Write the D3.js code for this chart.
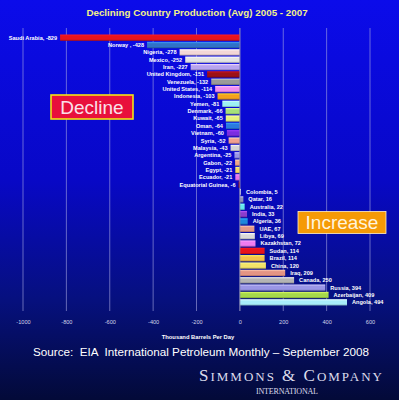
<!DOCTYPE html>
<html>
<head>
<meta charset="utf-8">
<script src="https://cdn.jsdelivr.net/npm/d3@7"></script>
<style>
html, body { margin: 0; padding: 0; background: #030a38; }
svg { display: block; }
</style>
</head>
<body>
<svg id="chart" width="399" height="400"></svg>
<script>
// countries in chart order, top to bottom
const countries = ["Saudi Arabia", "Norway ", "Nigeria", "Mexico", "Iran", "United Kingdom", "Venezuela",
  "United States", "Indonesia", "Yemen", "Denmark", "Kuwait", "Oman", "Vietnam", "Syria", "Malaysia",
  "Argentina", "Gabon", "Egypt", "Ecuador", "Equatorial Guinea",
  "Colombia", "Qatar", "Australia", "India", "Algeria", "UAE", "Libya", "Kazakhstan", "Sudan", "Brazil",
  "China", "Iraq", "Canada", "Russia", "Azerbaijan", "Angola"];
// change in production, thousand barrels per day
const values = [-829, -428, -278, -252, -227, -151, -132, -114, -103, -81, -66, -65, -64, -60, -52, -43,
  -25, -22, -21, -21, -6,
  5, 16, 22, 33, 36, 67, 69, 72, 114, 114, 120, 209, 250, 394, 409, 494];
const barColors = ["#e8141c", "#2f72c8", "#f2d6d6", "#e4e4e4", "#b8a4ee", "#9c1016", "#9a9a9a", "#f08ef0",
  "#f4a21c", "#9ef0f4", "#a6e07a", "#e6f27c", "#2a7ae0", "#7a2ee0", "#f0a090", "#d4d4d4",
  "#9a96e6", "#f0a888", "#f4d864", "#e874e8", "#9c1016",
  "#c8c8f0", "#9090b8", "#66e6ee", "#8a3ccc", "#1e86dc", "#e49888", "#d8d8d8", "#f07cf0", "#e8141c",
  "#f4c048", "#f4e468", "#e49484", "#b4b4b4", "#9a96e6", "#a6d84a", "#a8ecfa"];
const tickValues = [-1000, -800, -600, -400, -200, 0, 200, 400, 600];

const title = "Declining Country Production (Avg) 2005 - 2007";
const axisTitle = "Thousand Barrels Per Day";
const sourceText = "Source:  EIA  International Petroleum Monthly \u2013 September 2008";

var svg = d3.select("#chart");
var defs = svg.append("defs");

// background
var bg = defs.append("linearGradient").attr("id", "bg")
  .attr("x1", 0).attr("y1", 0).attr("x2", 0).attr("y2", 1);
bg.append("stop").attr("offset", "0%").attr("stop-color", "#0b0bea");
bg.append("stop").attr("offset", "45%").attr("stop-color", "#0808c6");
bg.append("stop").attr("offset", "75%").attr("stop-color", "#06107e");
bg.append("stop").attr("offset", "100%").attr("stop-color", "#030a38");
svg.append("rect").attr("width", 399).attr("height", 400).attr("fill", "url(#bg)");

// shiny bar gradients
barColors.forEach(function (c, i) {
  let g = defs.append("linearGradient").attr("id", "bar" + i)
    .attr("x1", 0).attr("y1", 0).attr("x2", 0).attr("y2", 1);
  g.append("stop").attr("offset", "0%").attr("stop-color", d3.color(c).brighter(0.9));
  g.append("stop").attr("offset", "30%").attr("stop-color", c);
  g.append("stop").attr("offset", "75%").attr("stop-color", c);
  g.append("stop").attr("offset", "100%").attr("stop-color", d3.color(c).darker(0.9));
});

var x = d3.scaleLinear().domain([-1000, 600]).range([23, 370]);
var y = d3.scaleBand().domain(countries).range([34.5, 305.5]).paddingInner(0.14);

// title
svg.append("text")
  .attr("x", 197).attr("y", 16)
  .attr("text-anchor", "middle")
  .attr("font-family", "Arial, 'Liberation Sans', sans-serif")
  .attr("font-weight", "bold")
  .attr("font-size", 9.8)
  .attr("fill", "#f2f08a")
  .text(title);

// grid lines
svg.append("g").selectAll("line")
  .data(tickValues)
  .enter()
  .append("line")
  .attr("x1", d => x(d)).attr("x2", d => x(d))
  .attr("y1", 28).attr("y2", 311)
  .attr("stroke", "#a8a8e0")
  .attr("stroke-opacity", 0.75)
  .attr("stroke-width", 0.8);

// bars
var rows = svg.append("g").selectAll("g")
  .data(countries)
  .enter()
  .append("g");

rows.append("rect")
  .attr("x", (d, i) => Math.min(x(0), x(values[i])))
  .attr("y", d => y(d))
  .attr("width", (d, i) => Math.abs(x(values[i]) - x(0)))
  .attr("height", y.bandwidth())
  .attr("fill", (d, i) => "url(#bar" + i + ")");

rows.append("text")
  .attr("x", (d, i) => values[i] < 0 ? x(values[i]) - 3 : x(values[i]) + 5)
  .attr("y", d => y(d) + y.bandwidth() / 2)
  .attr("dy", "0.35em")
  .attr("text-anchor", (d, i) => values[i] < 0 ? "end" : "start")
  .attr("font-family", "Arial, 'Liberation Sans', sans-serif")
  .attr("font-weight", "bold")
  .attr("font-size", 5.6)
  .attr("fill", "#ffffff")
  .style("white-space", "pre")
  .text((d, i) => d + ", " + values[i]);

// zero line
svg.append("line")
  .attr("x1", x(0)).attr("x2", x(0))
  .attr("y1", 28).attr("y2", 311)
  .attr("stroke", "#8080a8")
  .attr("stroke-width", 0.8);

// x axis labels
var axis = svg.append("g").attr("transform", "translate(0,324)")
  .call(d3.axisBottom(x).tickValues(tickValues).tickSize(0).tickPadding(0).tickFormat(d => String(d)));
axis.select(".domain").remove();
axis.selectAll("text")
  .attr("font-family", "Arial, 'Liberation Sans', sans-serif")
  .attr("font-size", 5.6)
  .attr("fill", "#d4d4e8")
  .attr("dy", 0);

svg.append("text")
  .attr("x", 198).attr("y", 339)
  .attr("text-anchor", "middle")
  .attr("font-family", "Arial, 'Liberation Sans', sans-serif")
  .attr("font-weight", "bold")
  .attr("font-size", 5.8)
  .attr("fill", "#ffffff")
  .text(axisTitle);

// annotation boxes
function labelBox(x0, y0, w, h, fill, stroke, sw, txt, txtColor) {
  svg.append("rect")
    .attr("x", x0).attr("y", y0).attr("width", w).attr("height", h)
    .attr("fill", fill).attr("stroke", stroke).attr("stroke-width", sw);
  svg.append("text")
    .attr("x", x0 + w / 2).attr("y", y0 + h / 2)
    .attr("dy", "0.36em")
    .attr("text-anchor", "middle")
    .attr("font-family", "Arial, 'Liberation Sans', sans-serif")
    .attr("font-size", 19)
    .attr("fill", txtColor)
    .text(txt);
}
labelBox(51, 95, 82, 24, "#e8103c", "#f4e414", 1.6, "Decline", "#fbe0ea");
labelBox(298, 211.5, 88, 22, "#f59a06", "#fff0c8", 0.8, "Increase", "#fff4dc");

// source
svg.append("text")
  .attr("x", 201).attr("y", 356)
  .attr("text-anchor", "middle")
  .attr("font-family", "Arial, 'Liberation Sans', sans-serif")
  .attr("font-size", 11.7)
  .attr("fill", "#ffffff")
  .style("white-space", "pre")
  .text(sourceText);

// logo
var logo = svg.append("text")
  .attr("x", 199).attr("y", 381)
  .attr("font-family", "'Times New Roman', 'Liberation Serif', serif")
  .attr("fill", "#dcdcec")
  .attr("textLength", 183)
  .attr("lengthAdjust", "spacing")
  .style("white-space", "pre");
[["S", 17], ["IMMONS", 13], [" & ", 17], ["C", 17], ["OMPANY", 13]].forEach(function (p) {
  logo.append("tspan").attr("font-size", p[1]).text(p[0]);
});
svg.append("text")
  .attr("x", 287).attr("y", 394)
  .attr("text-anchor", "middle")
  .attr("font-family", "'Times New Roman', 'Liberation Serif', serif")
  .attr("font-size", 8)
  .attr("fill", "#dcdcec")
  .attr("textLength", 62)
  .attr("lengthAdjust", "spacing")
  .text("INTERNATIONAL");
</script>
</body>
</html>
